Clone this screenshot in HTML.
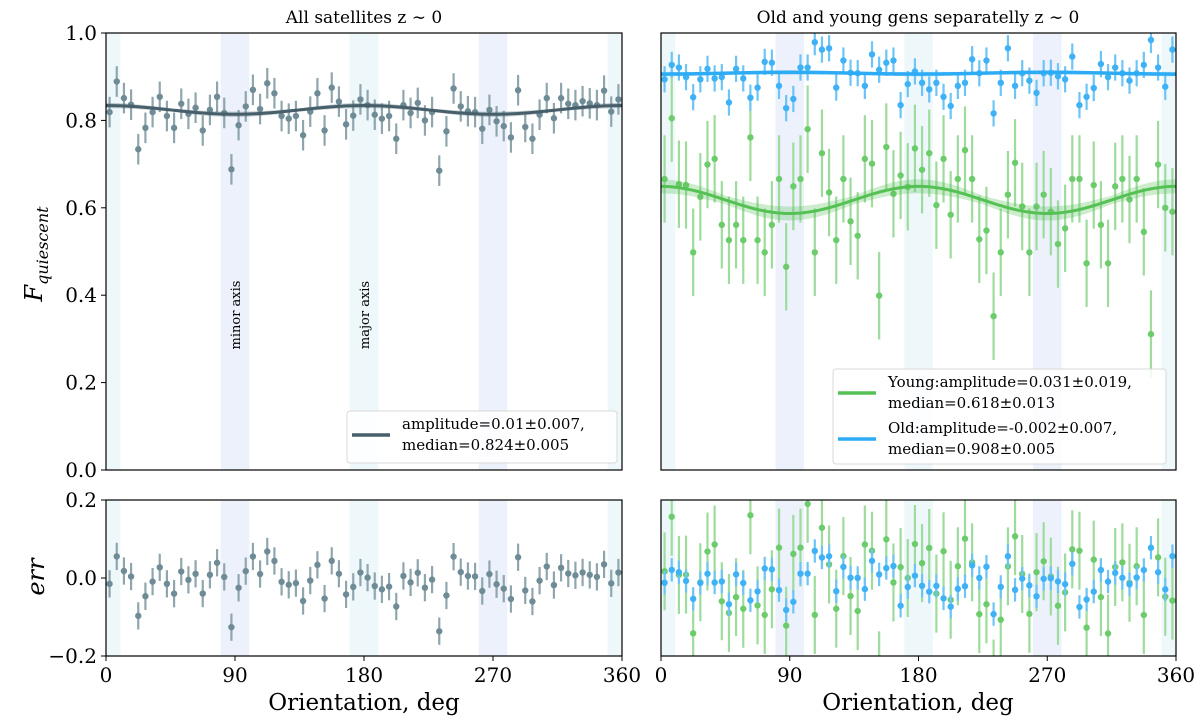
<!DOCTYPE html>
<html><head><meta charset="utf-8"><style>
body{margin:0;background:#fff}
svg text{font-family:"DejaVu Serif","Liberation Serif",serif;fill:#000}
</style></head><body>
<svg id="chart" width="1200" height="720" viewBox="0 0 1200 720" xmlns="http://www.w3.org/2000/svg">
<g id="layer"></g>
<text x="364" y="23" font-size="17" text-anchor="middle">All satellites z ∼ 0</text>
<text x="918" y="23" font-size="17" text-anchor="middle">Old and young gens separatelly z ∼ 0</text>
<text transform="translate(42,254) rotate(-90)" font-size="24" font-style="italic" text-anchor="middle">F<tspan font-size="16" dy="6">quiescent</tspan></text>
<text transform="translate(44,577) rotate(-90)" font-size="24" font-style="italic" text-anchor="middle">err</text>
<text x="364" y="710" font-size="23" text-anchor="middle">Orientation, deg</text>
<text x="918" y="710" font-size="23" text-anchor="middle">Orientation, deg</text>
</svg>
<script>
// ---- data ----
const angles = Array.from({length:72},(_, i)=>2.5+5*i);
const allVals = [0.819,0.889,0.851,0.836,0.734,0.783,0.819,0.854,0.81,0.783,0.838,0.815,0.829,0.777,0.824,0.854,0.817,0.688,0.789,0.832,0.870,0.826,0.885,0.862,0.81,0.804,0.81,0.766,0.82,0.862,0.777,0.875,0.843,0.791,0.811,0.848,0.835,0.813,0.804,0.81,0.758,0.835,0.817,0.84,0.8,0.819,0.685,0.775,0.873,0.832,0.821,0.819,0.781,0.824,0.798,0.787,0.761,0.869,0.785,0.758,0.813,0.851,0.805,0.851,0.838,0.835,0.844,0.839,0.835,0.868,0.82,0.848];
const oldZ = [148,105,112,142,202,148,117,145,142,217,117,145,203,173,95,98,167,235,207,112,112,37,59,55,173,91,128,130,167,73,119,98,91,225,162,124,159,178,159,200,228,167,159,88,130,91,250,159,55,167,130,152,188,130,128,139,148,80,225,200,174,102,142,112,130,152,130,105,30,112,170,59];
const youngZ = [447,265,462,465,667,500,404,386,584,631,584,631,322,631,667,584,447,711,469,447,297,667,369,487,631,447,574,617,386,401,797,351,491,437,470,355,419,369,526,386,555,447,361,447,628,602,858,667,494,398,530,667,530,494,545,642,595,447,447,700,465,584,700,469,447,509,447,606,912,404,534,545];
const oldVals = oldZ.map(z=>+((440-z/3)/437).toFixed(3));
const youngVals = youngZ.map(z=>+((440-z/3)/437).toFixed(3));
const allErr = 0.035, oldErr = 0.03, youngErr = 0.1;
const fitAll = [0.824, 0.01], fitYoung = [0.618, 0.031], fitOld = [0.908, -0.002];
const yTicks = [0.0,0.2,0.4,0.6,0.8,1.0];
const errTicks = [-0.2,0.0,0.2];
const xTicks = [0,90,180,270,360];
const bands = [[-10,10,'#eef8fb'],[80,100,'#edf1fc'],[170,190,'#eef8fb'],[260,280,'#edf1fc'],[350,370,'#eef8fb']];

const NS='http://www.w3.org/2000/svg';
const layer=document.getElementById('layer');
function mk(tag,attrs,parent){const e=document.createElementNS(NS,tag);for(const k in attrs)e.setAttribute(k,attrs[k]);(parent||layer).appendChild(e);return e;}
const panels={
  L:{x0:106,x1:622,y0:33,y1:470,lo:0,hi:1},
  R:{x0:661,x1:1176,y0:33,y1:470,lo:0,hi:1},
  LB:{x0:106,x1:622,y0:500,y1:656,lo:-0.2,hi:0.2},
  RB:{x0:661,x1:1176,y0:500,y1:656,lo:-0.2,hi:0.2}
};
function sx(p,d){return p.x0+(p.x1-p.x0)*d/360;}
function sy(p,v){return p.y1-(p.y1-p.y0)*(v-p.lo)/(p.hi-p.lo);}
function fit(f,d){return f[0]+f[1]*Math.cos(2*d*Math.PI/180);}
let cid=0;
function panel(key,name){
  const p=panels[key];
  const id='clip'+(cid++);
  const cp=mk('clipPath',{id});mk('rect',{x:p.x0,y:p.y0,width:p.x1-p.x0,height:p.y1-p.y0},cp);
  const g=mk('g',{'clip-path':`url(#${id})`});
  
  
  bands.forEach(b=>{
    const r=mk('rect',{x:sx(p,b[0]),y:p.y0,width:sx(p,b[1])-sx(p,b[0]),height:p.y1-p.y0,fill:b[2]},g);
    
    
  });
  return {p,g};
}
function points(P,vals,err,col,ecol,name,r){
  vals.forEach((v,i)=>{
    const x=sx(P.p,angles[i]);
    const l=mk('line',{x1:x,x2:x,y1:sy(P.p,v-err),y2:sy(P.p,v+err),stroke:ecol,'stroke-width':2.2},P.g);
    
    
    const c=mk('circle',{cx:x,cy:sy(P.p,v),r:r||3.2,fill:col},P.g);
    
    
  });
}
function fitCurve(P,f,col,w,band,name){
  let up='',dn='',ln='';
  for(let d=0;d<=360;d+=2){
    const v=fit(f,d);const x=sx(P.p,d);
    ln+=(d?'L':'M')+x+','+sy(P.p,v);
    const bw=band*(0.6+0.4*Math.abs(Math.cos(2*d*Math.PI/180)));
    up+=(d?'L':'M')+x+','+sy(P.p,v+bw);
    dn='L'+x+','+sy(P.p,v-bw)+dn;
  }
  const b=mk('path',{d:up+dn+'Z',fill:col,opacity:0.3},P.g);
  
  
  const l=mk('path',{d:ln,fill:'none',stroke:col,'stroke-width':w},P.g);
  
  
}
function frame(key,ticks,labels,name){
  const p=panels[key];
  const f=mk('rect',{x:p.x0,y:p.y0,width:p.x1-p.x0,height:p.y1-p.y0,fill:'none',stroke:'#000','stroke-width':1.2});
  
  
  if(labels){ticks.forEach(t=>{
    const y=sy(p,t);
    mk('line',{x1:p.x0-5,x2:p.x0,y1:y,y2:y,stroke:'#000','stroke-width':1});
    const tx=mk('text',{x:p.x0-9,y:y+7,'font-size':20,'text-anchor':'end'});
    tx.textContent=(t<0?'\u22120.2':t.toFixed(1));
    
    
  });}
  if(key==='LB'||key==='RB'){xTicks.forEach(t=>{
    const x=sx(p,t);
    mk('line',{x1:x,x2:x,y1:p.y1,y2:p.y1+5,stroke:'#000','stroke-width':1});
    const tx=mk('text',{x:x,y:p.y1+26,'font-size':20,'text-anchor':'middle'});
    tx.textContent=t;
    
    
  });}
}
const L=panel('L','all-satellites');
points(L,allVals,allErr,'#6f8c96','#8fa6ae','all-satellites');
fitCurve(L,fitAll,'#475f6a',3,0.006,'all-satellites');
const R=panel('R','old-young');
points(R,youngVals,youngErr,'#6ccc6c','#9ddc9d','young');
fitCurve(R,fitYoung,'#55c155',3,0.016,'young');
points(R,oldVals,oldErr,'#3fb2f5','#6cc4f7','old');
fitCurve(R,fitOld,'#2eabf5',3.5,0.005,'old');
const LB=panel('LB','all-satellites-residuals');
points(LB,allVals.map((v,i)=>v-fit(fitAll,angles[i])),allErr,'#6f8c96','#8fa6ae','all-residual');
const RB=panel('RB','old-young-residuals');
points(RB,youngVals.map((v,i)=>v-fit(fitYoung,angles[i])),youngErr,'#6ccc6c','#9ddc9d','young-residual');
points(RB,oldVals.map((v,i)=>v-fit(fitOld,angles[i])),oldErr,'#3fb2f5','#6cc4f7','old-residual');
frame('L',yTicks,true,'top-left');
frame('R',yTicks,false,'top-right');
frame('LB',errTicks,true,'bottom-left');
frame('RB',errTicks,false,'bottom-right');
[['minor axis',90,'minor-axis-label'],['major axis',180,'major-axis-label']].forEach(a=>{
  const x=sx(panels.L,a[1])+5;
  const t=mk('text',{transform:`translate(${x},315) rotate(-90)`,'font-size':13,'text-anchor':'middle'});
  t.textContent=a[0];
  
  
});
function legend(x,y,w,h,items,name){
  const g=mk('g',{});
  
  
  mk('rect',{x,y,width:w,height:h,rx:3,fill:'#fff','fill-opacity':0.85,stroke:'#d8d8d8'},g);
  items.forEach((it,i)=>{
    const yy=y+24+i*46;
    mk('line',{x1:x+5,x2:x+43,y1:yy,y2:yy,stroke:it[0],'stroke-width':3.5},g);
    const t1=mk('text',{x:x+55,y:yy-6,'font-size':15},g);t1.textContent=it[1];
    
    
    const t2=mk('text',{x:x+55,y:yy+15,'font-size':15},g);t2.textContent=it[2];
  });
}
legend(347,411,270,52,[['#475f6a','amplitude=0.01±0.007,','median=0.824±0.005']],'left-legend');
legend(833,369,333,95,[['#55c155','Young:amplitude=0.031±0.019,','median=0.618±0.013'],['#2eabf5','Old:amplitude=-0.002±0.007,','median=0.908±0.005']],'right-legend');
</script>
</body></html>
